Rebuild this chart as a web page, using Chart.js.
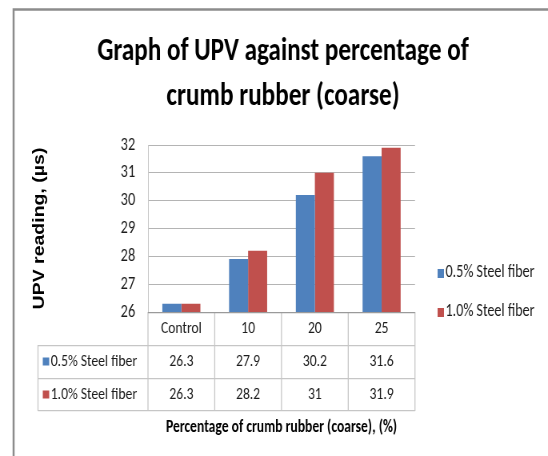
<!DOCTYPE html>
<html>
<head>
<meta charset="utf-8">
<script src="https://cdn.jsdelivr.net/npm/chart.js@4.4.0/dist/chart.umd.min.js"></script>
<style>
  body { margin: 0; background: #fff; }
</style>
</head>
<body>
<!-- the original picture is squeezed horizontally, so draw wider and scale down -->
<canvas id="upvChart" width="685" height="456" style="width:548px;height:456px;"></canvas>
<script>
let categories = ["Control", "10", "20", "25"];
let steel05 = [26.3, 27.9, 30.2, 31.6];
let steel10 = [26.3, 28.2, 31, 31.9];
let seriesNames = ["0.5% Steel fiber", "1.0% Steel fiber"];
let seriesColors = ["#4F81BD", "#C0504D"];
let yTicks = [26, 27, 28, 29, 30, 31, 32];
let seriesValues = [steel05, steel10];

let bodyFont = "Calibri, Carlito, Lato, sans-serif";
let textColor = "#1c1c1c";

// white page + grey frame on the top and left
let framePlugin = {
  id: "frame",
  beforeDraw: function (chart) {
    let ctx = chart.ctx;
    ctx.save();
    ctx.fillStyle = "#fff";
    ctx.fillRect(0, 0, chart.width, chart.height);
    ctx.strokeStyle = "#8c8c8c";
    ctx.lineWidth = 2.5;
    ctx.beginPath();
    ctx.moveTo(17, chart.height);
    ctx.lineTo(17, 9.5);
    ctx.lineTo(chart.width, 9.5);
    ctx.stroke();
    ctx.restore();
  }
};

// data table under the plot + legend on the right
let tablePlugin = {
  id: "dataTable",
  afterDraw: function (chart) {
    let ctx = chart.ctx;
    let area = chart.chartArea;
    let xs = chart.scales.x;
    let colW = (area.right - area.left) / categories.length;
    let rowH = 33;
    let top = area.bottom;
    let keyLeft = 47.5;

    ctx.save();
    ctx.strokeStyle = "#c6c6c6";
    ctx.lineWidth = 1.25;
    ctx.beginPath();
    ctx.moveTo(keyLeft, top + rowH + 0.5); ctx.lineTo(area.right, top + rowH + 0.5);
    ctx.moveTo(keyLeft, top + 2 * rowH + 0.5); ctx.lineTo(area.right, top + 2 * rowH + 0.5);
    ctx.moveTo(keyLeft, top + 3 * rowH - 0.5); ctx.lineTo(area.right, top + 3 * rowH - 0.5);
    ctx.moveTo(keyLeft, top + rowH); ctx.lineTo(keyLeft, top + 3 * rowH);
    for (let i = 0; i <= categories.length; i++) {
      let x = area.left + i * colW;
      ctx.moveTo(x, top); ctx.lineTo(x, top + 3 * rowH);
    }
    ctx.stroke();

    ctx.strokeStyle = "#9a9a9a";
    ctx.beginPath();
    ctx.moveTo(area.left, top + 0.5); ctx.lineTo(area.right, top + 0.5);
    ctx.stroke();

    ctx.fillStyle = textColor;
    ctx.font = "17px " + bodyFont;
    ctx.textAlign = "center";
    ctx.textBaseline = "middle";
    categories.forEach(function (c, i) {
      let cx = xs.getPixelForValue(i);
      ctx.fillText(c, cx, top + rowH / 2);
      seriesValues.forEach(function (vals, s) {
        ctx.fillText(String(vals[i]), cx, top + rowH * (s + 1) + rowH / 2);
      });
    });

    // row headers with colour keys
    ctx.textAlign = "left";
    seriesNames.forEach(function (name, s) {
      let cy = top + rowH * (s + 1) + rowH / 2;
      ctx.fillStyle = seriesColors[s];
      ctx.fillRect(keyLeft + 6, cy - 4, 8, 8);
      ctx.fillStyle = textColor;
      ctx.fillText(name, keyLeft + 16, cy);
    });

    // legend
    let legendY = [273, 312];
    ctx.font = "17.5px " + bodyFont;
    seriesNames.forEach(function (name, s) {
      ctx.fillStyle = seriesColors[s];
      ctx.fillRect(547, legendY[s] - 4, 8, 9);
      ctx.fillStyle = textColor;
      ctx.fillText(name, 557, legendY[s]);
    });
    ctx.restore();
  }
};

let ctx = document.getElementById("upvChart").getContext("2d");
let chart = new Chart(ctx, {
  type: "bar",
  data: {
    labels: categories,
    datasets: [{
      label: seriesNames[0],
      data: steel05,
      backgroundColor: seriesColors[0]
    }, {
      label: seriesNames[1],
      data: steel10,
      backgroundColor: seriesColors[1]
    }]
  },
  options: {
    responsive: false,
    animation: false,
    layout: { padding: { top: 0, right: 0, bottom: 0, left: 22.5 } },
    datasets: {
      bar: { categoryPercentage: 0.57, barPercentage: 1 }
    },
    plugins: {
      legend: { display: false },
      tooltip: { enabled: false },
      title: {
        display: true,
        text: ["Graph of UPV against percentage of", "crumb rubber (coarse)"],
        color: "#000",
        font: { family: bodyFont, size: 31.5, weight: "bold", lineHeight: 45 / 31.5 },
        padding: { top: 30, bottom: 25 }
      }
    },
    scales: {
      x: {
        grid: { display: false },
        border: { display: false },
        ticks: { display: false },
        title: {
          display: true,
          text: "Percentage of crumb rubber (coarse), (%)",
          color: "#000",
          font: { family: bodyFont, size: 17, weight: "bold", lineHeight: 1.2 },
          padding: { top: 0, bottom: 18 }
        },
        afterFit: function (scale) { scale.height = 144; }
      },
      y: {
        min: 26,
        max: 32,
        afterBuildTicks: function (scale) {
          scale.ticks = yTicks.map(function (v) { return { value: v }; });
        },
        grid: { color: "#b4b4b4", drawTicks: false },
        border: { color: "#c8c8c8" },
        ticks: {
          padding: 16,
          color: textColor,
          font: { family: bodyFont, size: 18 }
        },
        title: {
          display: true,
          text: "UPV reading, (µs)",
          color: "#000",
          font: { family: "'Liberation Sans', Arial, sans-serif", size: 19.5, weight: "bold", lineHeight: 1.2 },
          padding: { top: 15, bottom: 0 }
        },
        afterFit: function (scale) { scale.width = 162.5; }
      },
      // empty axis that keeps the space on the right free for the legend
      y2: {
        position: "right",
        display: true,
        grid: { display: false },
        border: { display: false },
        ticks: { display: false },
        afterFit: function (scale) { scale.width = 166.25; }
      }
    }
  },
  plugins: [framePlugin, tablePlugin]
});
</script>
</body>
</html>
